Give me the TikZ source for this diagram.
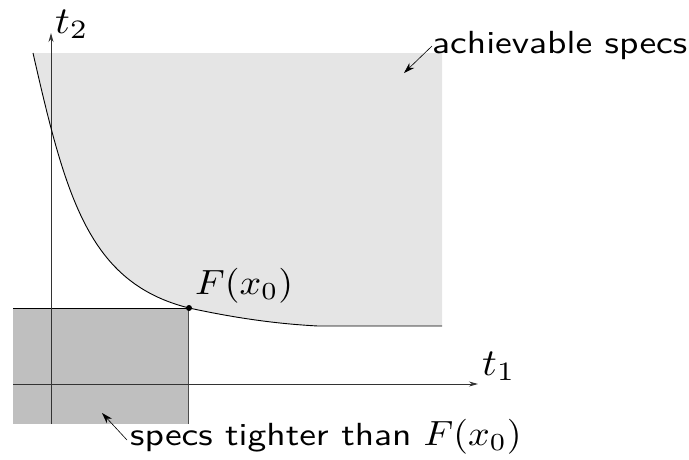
\documentclass[tikz,border=0pt]{standalone}
\usetikzlibrary{arrows.meta}
\newcommand{\txtlbl}[1]{\scalebox{3.75}[3.2]{\sffamily #1}}
\newcommand{\mathlbl}[1]{\scalebox{3.8}[3.5]{$#1$}}
\newcommand{\axlbl}[1]{\scalebox{4.1}[3.8]{$#1$}}
\begin{document}
\begin{tikzpicture}[x=1pt,y=-1pt,
  lbl/.style={inner sep=0pt},
  axis/.style={draw=black!80, line width=0.9pt, -{Stealth[length=9pt,width=5pt]}},
  pointer/.style={draw=black, line width=0.6pt, -{Stealth[length=11pt,width=7pt]}},
  curve/.style={draw=black, line width=0.9pt}]
\useasboundingbox (0,0) rectangle (689,459);
% achievable region
\fill[black!10] (33,53) .. controls (66,198.2) and (89,283) .. (189,308)
  .. controls (240,319) and (280,324) .. (318,326) -- (442,326) -- (442,53) -- cycle;
% tighter region
\fill[black!25] (13,308) rectangle (188,424);
\draw[draw=black!70, line width=0.9pt] (188,308) -- (188,424);
\draw[draw=black, line width=0.9pt] (13,308) -- (188,308);
% axes
\coordinate (xs) at (13,384);
\coordinate (xe) at (478,384);
\coordinate (ys) at (51,424);
\coordinate (ye) at (51,33);
\draw[axis] (xs) -- (xe);
\draw[axis] (ys) -- (ye);
% trade-off curve
\draw[curve] (33,53) .. controls (66,198.2) and (89,283) .. (189,308)
  .. controls (240,319) and (280,324) .. (318,326) -- (442,326);
\node[circle, fill=black, inner sep=0pt, minimum size=6pt] (F) at (189,308) {};
% labels
\node[lbl, anchor=base west] (t1) at (482,375) {\axlbl{t_1}};
\node[lbl, anchor=base west] (t2) at (55,33) {\axlbl{t_2}};
\node[lbl, anchor=base west] (Fl) at (195,294) {\mathlbl{F(x_0)}};
\node[lbl, anchor=base west] (ach) at (432,53) {\txtlbl{achievable specs}};
\node[lbl, anchor=base west] (tight) at (130,445) {\txtlbl{specs tighter than}\hspace{12pt}\mathlbl{F(x_0)}};
\coordinate (a0) at (432,46);
\coordinate (achtip) at (404,73);
\coordinate (b0) at (127,440);
\coordinate (tighttip) at (102,413);
\draw[pointer] (a0) -- (achtip);
\draw[pointer] (b0) -- (tighttip);
\end{tikzpicture}
\end{document}
